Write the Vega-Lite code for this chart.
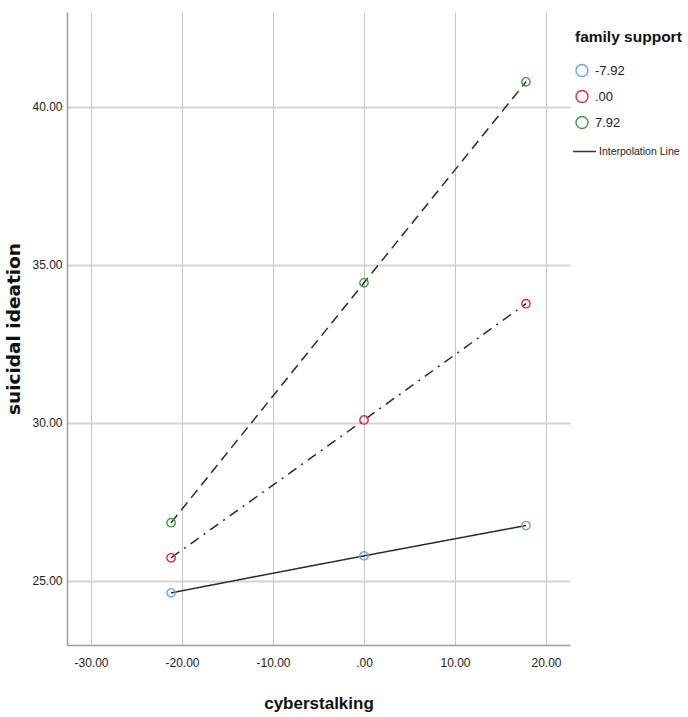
{
  "$schema": "https://vega.github.io/schema/vega-lite/v6.json",
  "width": 503,
  "height": 633,
  "autosize": "none",
  "padding": {"left": 67, "top": 12, "right": 118, "bottom": 72},
  "background": "white",
  "config": {
    "font": "Liberation Sans",
    "view": {"stroke": null},
    "axis": {
      "labelFont": "Liberation Sans",
      "labelFontSize": 12,
      "labelColor": "#222",
      "domainColor": "#a0a0a0",
      "domainWidth": 1.6,
      "ticks": false,
      "titleColor": "#111"
    }
  },
  "data": {
    "values": [
      {"cs": -21.2, "si": 24.62, "fs": "-7.92", "line": "solid", "il": "Interpolation Line"},
      {"cs": 0.0, "si": 25.79, "fs": "-7.92", "line": "solid", "il": "Interpolation Line"},
      {"cs": 17.8, "si": 26.75, "fs": "-7.92", "line": "solid", "il": "Interpolation Line"},
      {"cs": -21.2, "si": 25.73, "fs": ".00", "line": "dashdot", "il": "Interpolation Line"},
      {"cs": 0.0, "si": 30.09, "fs": ".00", "line": "dashdot", "il": "Interpolation Line"},
      {"cs": 17.8, "si": 33.77, "fs": ".00", "line": "dashdot", "il": "Interpolation Line"},
      {"cs": -21.2, "si": 26.84, "fs": "7.92", "line": "dash", "il": "Interpolation Line"},
      {"cs": 0.0, "si": 34.43, "fs": "7.92", "line": "dash", "il": "Interpolation Line"},
      {"cs": 17.8, "si": 40.79, "fs": "7.92", "line": "dash", "il": "Interpolation Line"}
    ]
  },
  "encoding": {
    "x": {
      "field": "cs",
      "type": "quantitative",
      "title": "cyberstalking",
      "scale": {"domain": [-32.64, 22.64], "nice": false, "zero": false},
      "axis": {
        "values": [-30, -20, -10, 0, 10, 20],
        "labelExpr": "datum.value == 0 ? '.00' : replace(format(datum.value, '.2f'), '\u2212', '-')",
        "labelPadding": 12,
        "gridColor": "#c6c6c6",
        "gridWidth": 1,
        "titleFont": "Liberation Sans",
        "titleFontSize": 17,
        "titleFontWeight": "bold",
        "titlePadding": 27
      }
    },
    "y": {
      "field": "si",
      "type": "quantitative",
      "title": "suicidal ideation",
      "scale": {"domain": [22.97, 43.0], "nice": false, "zero": false},
      "axis": {
        "values": [25, 30, 35, 40],
        "format": ".2f",
        "labelPadding": 5,
        "gridColor": "#d4d4d4",
        "gridWidth": 2,
        "titleFont": "DejaVu Sans",
        "titleFontSize": 18.5,
        "titleFontWeight": "bold",
        "titlePadding": 8
      }
    }
  },
  "layer": [
    {
      "mark": {"type": "line", "interpolate": "monotone", "color": "#2a2a2a"},
      "encoding": {
        "strokeDash": {
          "field": "line",
          "type": "nominal",
          "scale": {"domain": ["solid", "dashdot", "dash"], "range": [[1, 0], [10, 6, 2, 6], [10, 6]]},
          "legend": null
        },
        "strokeWidth": {
          "field": "il",
          "type": "nominal",
          "scale": {"range": [1.5, 1.5]},
          "legend": {
            "title": null,
            "orient": "none",
            "legendX": 505,
            "legendY": 127,
            "padding": 0,
            "symbolType": "stroke",
            "symbolStrokeColor": "#333",
            "symbolSize": 529,
            "labelOffset": 2,
            "labelFont": "Liberation Sans",
            "labelFontSize": 10.5,
            "labelColor": "#222",
            "labelLimit": 200
          }
        }
      }
    },
    {
      "mark": {"type": "point", "filled": false, "size": 70, "strokeWidth": 1.4, "opacity": 1},
      "encoding": {
        "color": {
          "field": "fs",
          "type": "nominal",
          "scale": {"domain": ["-7.92", ".00", "7.92"], "range": ["#6aa4f0", "#e3294e", "#3f9c3f"]},
          "legend": {
            "title": "family support",
            "orient": "none",
            "legendX": 508,
            "legendY": 18,
            "padding": 0,
            "titleFont": "Liberation Sans",
            "titleFontSize": 15.5,
            "titleFontWeight": "bold",
            "titleColor": "#111",
            "titlePadding": 18,
            "symbolType": "circle",
            "symbolSize": 144,
            "symbolStrokeWidth": 1.4,
            "labelOffset": 6,
            "labelFont": "Liberation Sans",
            "labelFontSize": 13,
            "labelColor": "#222",
            "rowPadding": 8
          }
        }
      }
    }
  ]
}
